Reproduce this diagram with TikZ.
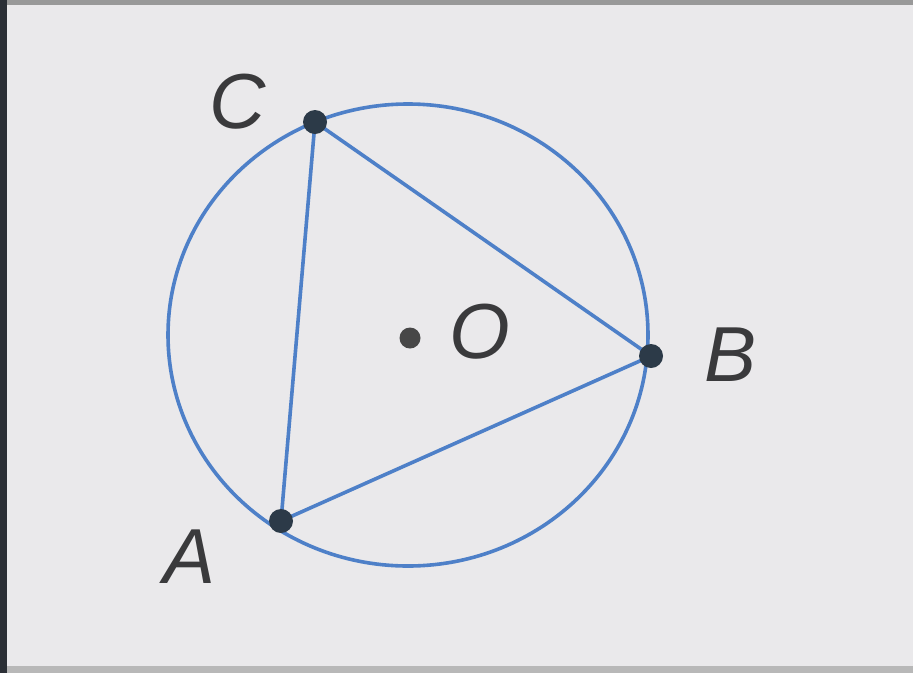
\documentclass[tikz,border=0pt]{standalone}
\usepackage{fontspec}
\setmainfont{Liberation Sans}
\begin{document}
\begin{tikzpicture}[x=1pt,y=-1pt]
\definecolor{bg}{RGB}{234,233,235}
\definecolor{circ}{RGB}{78,128,200}
\definecolor{dotc}{RGB}{44,58,72}
\definecolor{strip}{RGB}{43,47,54}
\definecolor{txt}{RGB}{58,58,60}
\tikzset{
  lbl/.style={font=\fontsize{78}{78}\selectfont\itshape, text=txt, inner sep=0pt},
  vtx/.style={circle, fill=dotc, inner sep=0pt, minimum size=24pt},
  ctr/.style={circle, fill=black!72, inner sep=0pt, minimum size=21pt},
  bluel/.style={draw=circ, line width=3.6pt, line join=round}}
\useasboundingbox (0,0) rectangle (913,673);
\fill[bg] (0,0) rectangle (913,673);
\fill[black!40] (0,0) rectangle (913,5);
\fill[black!28] (0,666) rectangle (913,673);
\fill[strip] (0,0) rectangle (7,673);
\draw[bluel] (408,335) ellipse [x radius=240, y radius=231];
\coordinate (Cc) at (315,122);
\coordinate (Bc) at (651,356);
\coordinate (Ac) at (281,521);
\draw[bluel] (Cc) -- (Bc) -- (Ac) -- cycle;
\node[vtx] (C) at (Cc) {};
\node[vtx] (B) at (Bc) {};
\node[vtx] (A) at (Ac) {};
\node[ctr] (O) at (410,338) {};
\node[lbl] (lC) at (238,102) {C};
\node[lbl] (lB) at (731,355) {B};
\node[lbl] (lA) at (190,557) {A};
\node[lbl] (lO) at (480,332) {O};
\end{tikzpicture}
\end{document}
